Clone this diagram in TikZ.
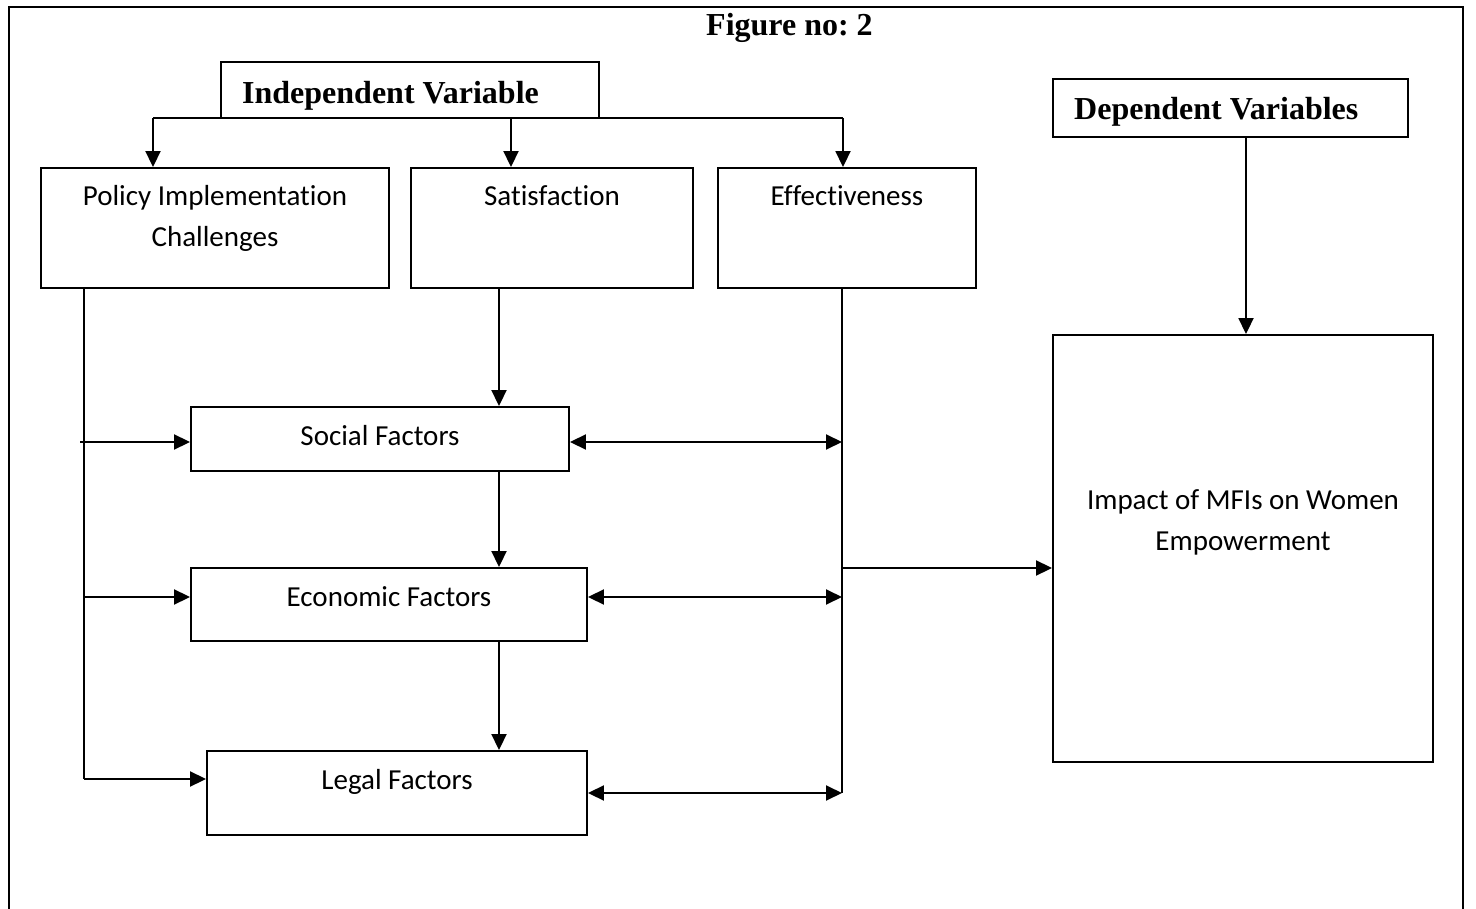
\documentclass[tikz,border=0pt]{standalone}
\usepackage{fontspec}
\setmainfont{Liberation Serif}
\newfontfamily\calfont[Ligatures=CommonOff]{Carlito}
\usetikzlibrary{arrows.meta}
\begin{document}
\frenchspacing
\begin{tikzpicture}[x=1pt,y=-1pt,
  box/.style={draw, line width=1.9pt, inner sep=0pt},
  lbl/.style={anchor=base, inner sep=0pt, font=\calfont\fontsize{29}{35}\selectfont},
  head/.style={anchor=base, inner sep=0pt, font=\bfseries\frenchspacing\fontsize{32}{38}\selectfont},
  conn/.style={line width=1.9pt},
  arr/.style={conn, -{Triangle[length=16pt,width=15pt]}},
  darr/.style={conn, {Triangle[length=16pt,width=15pt]}-{Triangle[length=16pt,width=15pt]}}
]
\useasboundingbox (0,0) rectangle (1476,909);
\draw[conn] (9,909) -- (9,7) -- (1463,7) -- (1463,909);

\node[head] (title) at (789.5,36) {Figure no: 2};

\node[box, minimum width=378pt, minimum height=56pt] (indep) at (410,90) {};
\node[head, anchor=base west] (indepT) at (242,104) {Independent Variable};
\node[box, minimum width=355pt, minimum height=58pt] (dep) at (1230.5,108) {};
\node[head, anchor=base west] (depT) at (1074,120) {Dependent Variables};

\node[box, minimum width=348pt, minimum height=120pt] (policy) at (215,228) {};
\node[lbl] (policyT1) at (215,206) {Policy Implementation};
\node[lbl] (policyT2) at (215,247) {Challenges};
\node[box, minimum width=282pt, minimum height=120pt] (satis) at (552,228) {};
\node[lbl] (satisT) at (552,206) {Satisfaction};
\node[box, minimum width=258pt, minimum height=120pt] (effect) at (847,228) {};
\node[lbl] (effectT) at (847,206) {Effectiveness};

\node[box, minimum width=378pt, minimum height=64pt] (social) at (380,439) {};
\node[lbl] (socialT) at (380,446) {Social Factors};
\node[box, minimum width=396pt, minimum height=73pt] (econ) at (389,604.5) {};
\node[lbl] (econT) at (389,606) {Economic Factors};
\node[box, minimum width=380pt, minimum height=84pt] (legal) at (397,793) {};
\node[lbl] (legalT) at (397,789) {Legal Factors};

\node[box, minimum width=380pt, minimum height=427pt] (impact) at (1243,548.5) {};
\node[lbl] (impactT1) at (1243,509) {Impact of MFIs on Women};
\node[lbl] (impactT2) at (1243,550) {Empowerment};

% top distribution
\coordinate (ja) at (153,118);
\coordinate (jb) at (511,118);
\coordinate (jc) at (843,118);
\draw[conn] (ja) -- (jc);
\draw[arr] (ja) -- (ja |- policy.north);
\draw[arr] (jb) -- (jb |- satis.north);
\draw[arr] (jc) -- (jc |- effect.north);

% dependent
\coordinate (dx) at (1246,0);
\draw[arr] (dep.south -| dx) -- (impact.north -| dx);

% left bus
\coordinate (lx) at (84,0);
\coordinate (lend) at (84,779);
\draw[conn] (policy.south -| lx) -- (lend);
\draw[arr] (lend) -- (legal.west |- lend);
\coordinate (ls) at (80,442);
\draw[arr] (ls) -- (social.west |- ls);
\coordinate (le) at (84,597);
\draw[arr] (le) -- (econ.west |- le);

% middle chain
\coordinate (mx) at (499,0);
\draw[arr] (satis.south -| mx) -- (social.north -| mx);
\draw[arr] (social.south -| mx) -- (econ.north -| mx);
\draw[arr] (econ.south -| mx) -- (legal.north -| mx);

% right bus
\coordinate (rx) at (842,0);
\coordinate (rend) at (842,793);
\draw[conn] (effect.south -| rx) -- (rend);
\coordinate (rs) at (842,442);
\draw[darr] (social.east |- rs) -- (rs);
\coordinate (re) at (842,597);
\draw[darr] (econ.east |- re) -- (re);
\draw[darr] (legal.east |- rend) -- (rend);
\coordinate (ri) at (842,568);
\draw[arr] (ri) -- (impact.west |- ri);
\end{tikzpicture}
\end{document}
